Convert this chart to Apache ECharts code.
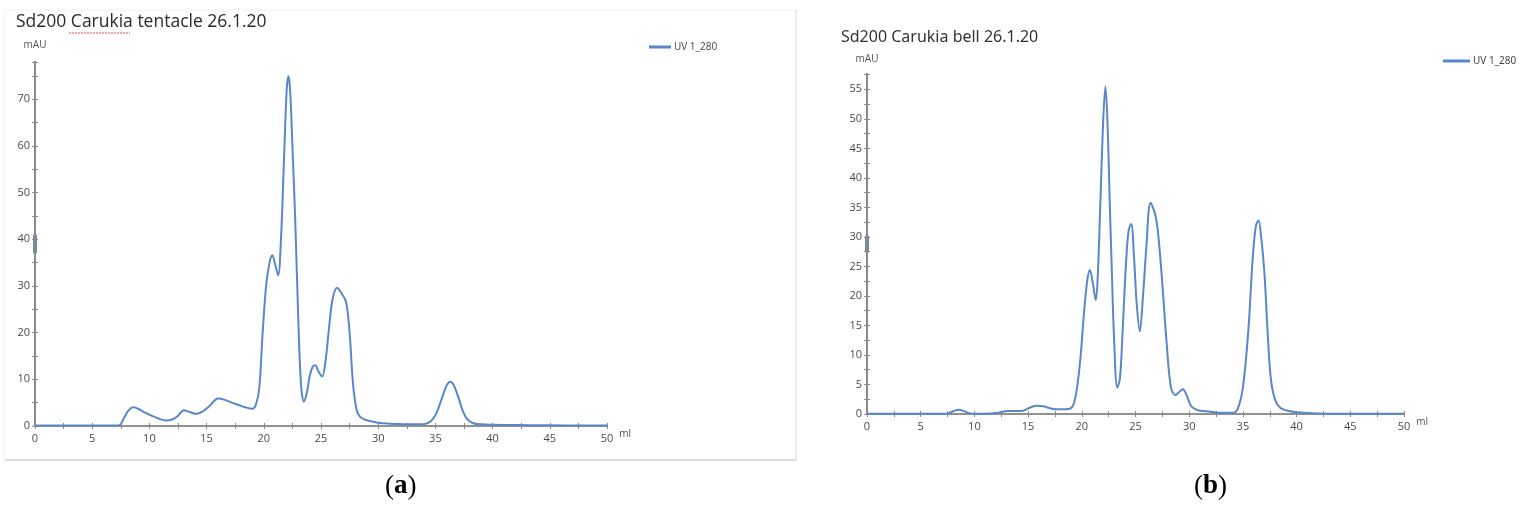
<!DOCTYPE html>
<html>
<head>
<meta charset="utf-8">
<script src="https://cdn.jsdelivr.net/npm/echarts@6/dist/echarts.min.js"></script>
<style>
html,body{margin:0;padding:0;background:#fff;}
#c{width:1533px;height:517px;}
</style>
</head>
<body>
<div id="c"></div>
<script>
// ---- data ----
var seriesName = 'UV 1_280';
var titleA = 'Sd200 Carukia tentacle 26.1.20';
var titleB = 'Sd200 Carukia bell 26.1.20';

var tentacleMl = [0,2,4,6,7,7.4,7.8,8.2,8.6,9.0,9.6,10.2,10.8,11.4,12.0,12.5,13.0,13.5,14.1,14.7,15.3,16.0,16.6,17.2,17.8,18.4,19.0,19.3,19.6,19.9,20.2,20.5,20.75,21.0,21.25,21.5,21.75,22.0,22.15,22.3,22.5,22.75,23.0,23.25,23.5,23.75,24.0,24.25,24.5,24.75,25.1,25.4,25.7,26.0,26.4,26.8,27.2,27.5,27.8,28.1,28.4,28.8,29.4,30,31,32,33,34,34.6,35.1,35.6,36.0,36.3,36.6,37.0,37.4,37.8,38.3,39,40,42,45,48,50];
var tentacleMau = [0.1,0.1,0.1,0.1,0.1,0.2,1.8,3.4,4.0,3.7,2.9,2.2,1.6,1.2,1.4,2.2,3.4,3.0,2.6,3.2,4.4,5.9,5.6,5.0,4.5,4.0,3.7,4.5,8,20,30,35,36.6,34.5,32.3,40,56,72,75,72,60,44,24,9,5.2,7,10.5,12.6,13,11.8,10.6,14,21,27,29.6,28.4,26.5,20,9,3.6,2.0,1.4,1.0,0.7,0.5,0.4,0.35,0.4,1.0,2.8,6.2,8.8,9.5,8.8,6.2,3.2,1.4,0.6,0.35,0.25,0.2,0.15,0.1,0.1];

var bellMl = [0,3,6,7.4,7.8,8.2,8.6,9.0,9.5,10,11,12,12.6,13.2,14,14.6,15.2,15.8,16.4,17,17.6,18.4,19.0,19.3,19.6,19.9,20.2,20.5,20.75,21.0,21.3,21.5,21.75,22.0,22.2,22.4,22.6,22.8,23.0,23.3,23.55,23.8,24.1,24.35,24.6,24.85,25.1,25.4,25.7,26.0,26.4,26.8,27.1,27.5,27.9,28.3,28.7,29.0,29.4,29.8,30.2,30.9,32,33,34,34.5,35,35.5,35.9,36.2,36.45,36.7,37.0,37.3,37.6,38.0,38.5,39.1,40,42,46,50];
var bellMau = [0.05,0.05,0.05,0.05,0.3,0.6,0.7,0.5,0.15,0.05,0.05,0.15,0.4,0.5,0.5,0.6,1.1,1.4,1.3,1.0,0.8,0.8,1.0,2.0,5,10,17,22.5,24.4,22.5,19.3,24,37,50,55.5,49,36,24,13,4.5,6,14,25,31,32.2,27,19,14,20,28,35.8,34,30.7,22,12,4.5,3.2,3.6,4.2,3,1.3,0.6,0.4,0.2,0.2,0.8,4.5,14,26,31.8,32.8,30,24,14,6,2.4,1.0,0.6,0.3,0.1,0.05,0.05];

var xTickStep = 5;
var yTickStepA = 10;
var yTickStepB = 5;
var yMaxA = 78;
var yMaxB = 57.6;
var xMax = 50;

function pairs(xs, ys){ var out=[]; for(var i=0;i<xs.length;i++) out.push([xs[i], ys[i]]); return out; }

var lineColor = '#5a87c9';
var axisColor = '#8a8a8a';
var labelStyle = {color:'#4a4a4a', fontSize:11, fontFamily:'Open Sans'};

function xAxes(grid, inside){
  return {
    gridIndex: grid, type:'value', min:0, max:xMax, interval:xTickStep,
    position:'bottom',
    name: inside ? '' : 'ml',
    nameLocation:'end', nameGap:10,
    nameTextStyle:{color:'#555', fontSize:10, fontFamily:'Open Sans', verticalAlign:'top', padding:[3,0,0,0]},
    axisLine:{show:true, lineStyle:{color:axisColor, width:1.5}},
    axisTick:{show:true, inside:inside, length:3, lineStyle:{color:axisColor}},
    minorTick:{show:true, splitNumber:2, length:3, lineStyle:{color:axisColor}},
    axisLabel:{show:!inside, margin:7, color:labelStyle.color, fontSize:labelStyle.fontSize, fontFamily:labelStyle.fontFamily},
    splitLine:{show:false}
  };
}
function yAxes(grid, max, step, inside, nameGap){
  return {
    gridIndex: grid, type:'value', min:0, max:max, interval:step,
    position:'left',
    name: inside ? '' : 'mAU', nameLocation:'end', nameGap:nameGap,
    nameTextStyle:{color:'#555', fontSize:10, fontFamily:'Open Sans', align:'center'},
    axisLine:{show:true, lineStyle:{color:axisColor, width:2}},
    axisTick:{show:true, inside:inside, length:3, lineStyle:{color:axisColor}},
    minorTick:{show:true, splitNumber:2, length:3, lineStyle:{color:axisColor}},
    axisLabel:{show:!inside, margin:5, showMaxLabel:false, color:labelStyle.color, fontSize:labelStyle.fontSize, fontFamily:labelStyle.fontFamily},
    splitLine:{show:false}
  };
}

var chart = echarts.init(document.getElementById('c'), null, {renderer:'canvas'});
var option = {
  animation:false,
  backgroundColor:'#fff',
  title:[
    {text:titleA, left:11, top:8, textStyle:{color:'#2a2a2a', fontSize:17.5, fontWeight:'normal', fontFamily:'Open Sans'}},
    {text:titleB, left:836, top:24, textStyle:{color:'#333', fontSize:16, fontWeight:'normal', fontFamily:'Noto Sans'}}
  ],
  legend:[
    {data:[seriesName], left:644, top:37, itemWidth:22, itemHeight:3, icon:'rect', itemGap:4,
     textStyle:{color:'#444', fontSize:10, fontFamily:'Open Sans', padding:[0,0,0,-2]}},
    {data:[seriesName], left:1438, top:51, itemWidth:27, itemHeight:3, icon:'rect',
     textStyle:{color:'#444', fontSize:10, fontFamily:'Noto Sans', padding:[0,0,0,-2]}}
  ],
  grid:[
    {left:35, right:1533-607, top:62, bottom:517-426},
    {left:867, right:1533-1404, top:74, bottom:517-414}
  ],
  xAxis:[xAxes(0,false), xAxes(0,true), xAxes(1,false), xAxes(1,true)],
  yAxis:[yAxes(0,yMaxA,yTickStepA,false,12), yAxes(0,yMaxA,yTickStepA,true,12),
         yAxes(1,yMaxB,yTickStepB,false,10), yAxes(1,yMaxB,yTickStepB,true,10)],
  series:[
    {name:seriesName, type:'line', xAxisIndex:0, yAxisIndex:0, data:pairs(tentacleMl, tentacleMau),
     showSymbol:false, smooth:0.35, lineStyle:{color:lineColor, width:2}, itemStyle:{color:lineColor}},
    {name:seriesName, type:'line', xAxisIndex:2, yAxisIndex:2, data:pairs(bellMl, bellMau),
     showSymbol:false, smooth:0.35, lineStyle:{color:lineColor, width:2}, itemStyle:{color:lineColor}}
  ],
  graphic:[
    {type:'rect', silent:true, z:-1, shape:{x:4, y:10, width:792, height:450}, style:{fill:'none', stroke:'#f2f2f2', lineWidth:1}},
    {type:'line', silent:true, shape:{x1:5, y1:460, x2:796, y2:460}, style:{stroke:'#d4d4d4', lineWidth:1.5}},
    {type:'line', silent:true, shape:{x1:796, y1:10, x2:796, y2:460}, style:{stroke:'#dcdcdc', lineWidth:1}},
    {type:'line', silent:true, shape:{x1:69, y1:33, x2:130, y2:33}, style:{stroke:'#e05050', lineWidth:1, lineDash:[2,1]}},
    {type:'rect', silent:true, shape:{x:33, y:234, width:4, height:20, r:2}, style:{fill:'#6f84a6'}},
    {type:'rect', silent:true, shape:{x:865, y:235, width:4, height:18, r:2}, style:{fill:'#6f84a6'}},
    {type:'text', left:385, top:473, style:{text:'({a|a})', rich:{a:{fontWeight:'bold', fontSize:27, fontFamily:'Liberation Serif', fill:'#000'}}, fontSize:27, fontFamily:'Liberation Serif', fill:'#000'}},
    {type:'text', left:1194, top:473, style:{text:'({a|b})', rich:{a:{fontWeight:'bold', fontSize:27, fontFamily:'Liberation Serif', fill:'#000'}}, fontSize:27, fontFamily:'Liberation Serif', fill:'#000'}}
  ]
};
chart.setOption(option);
</script>
</body>
</html>
